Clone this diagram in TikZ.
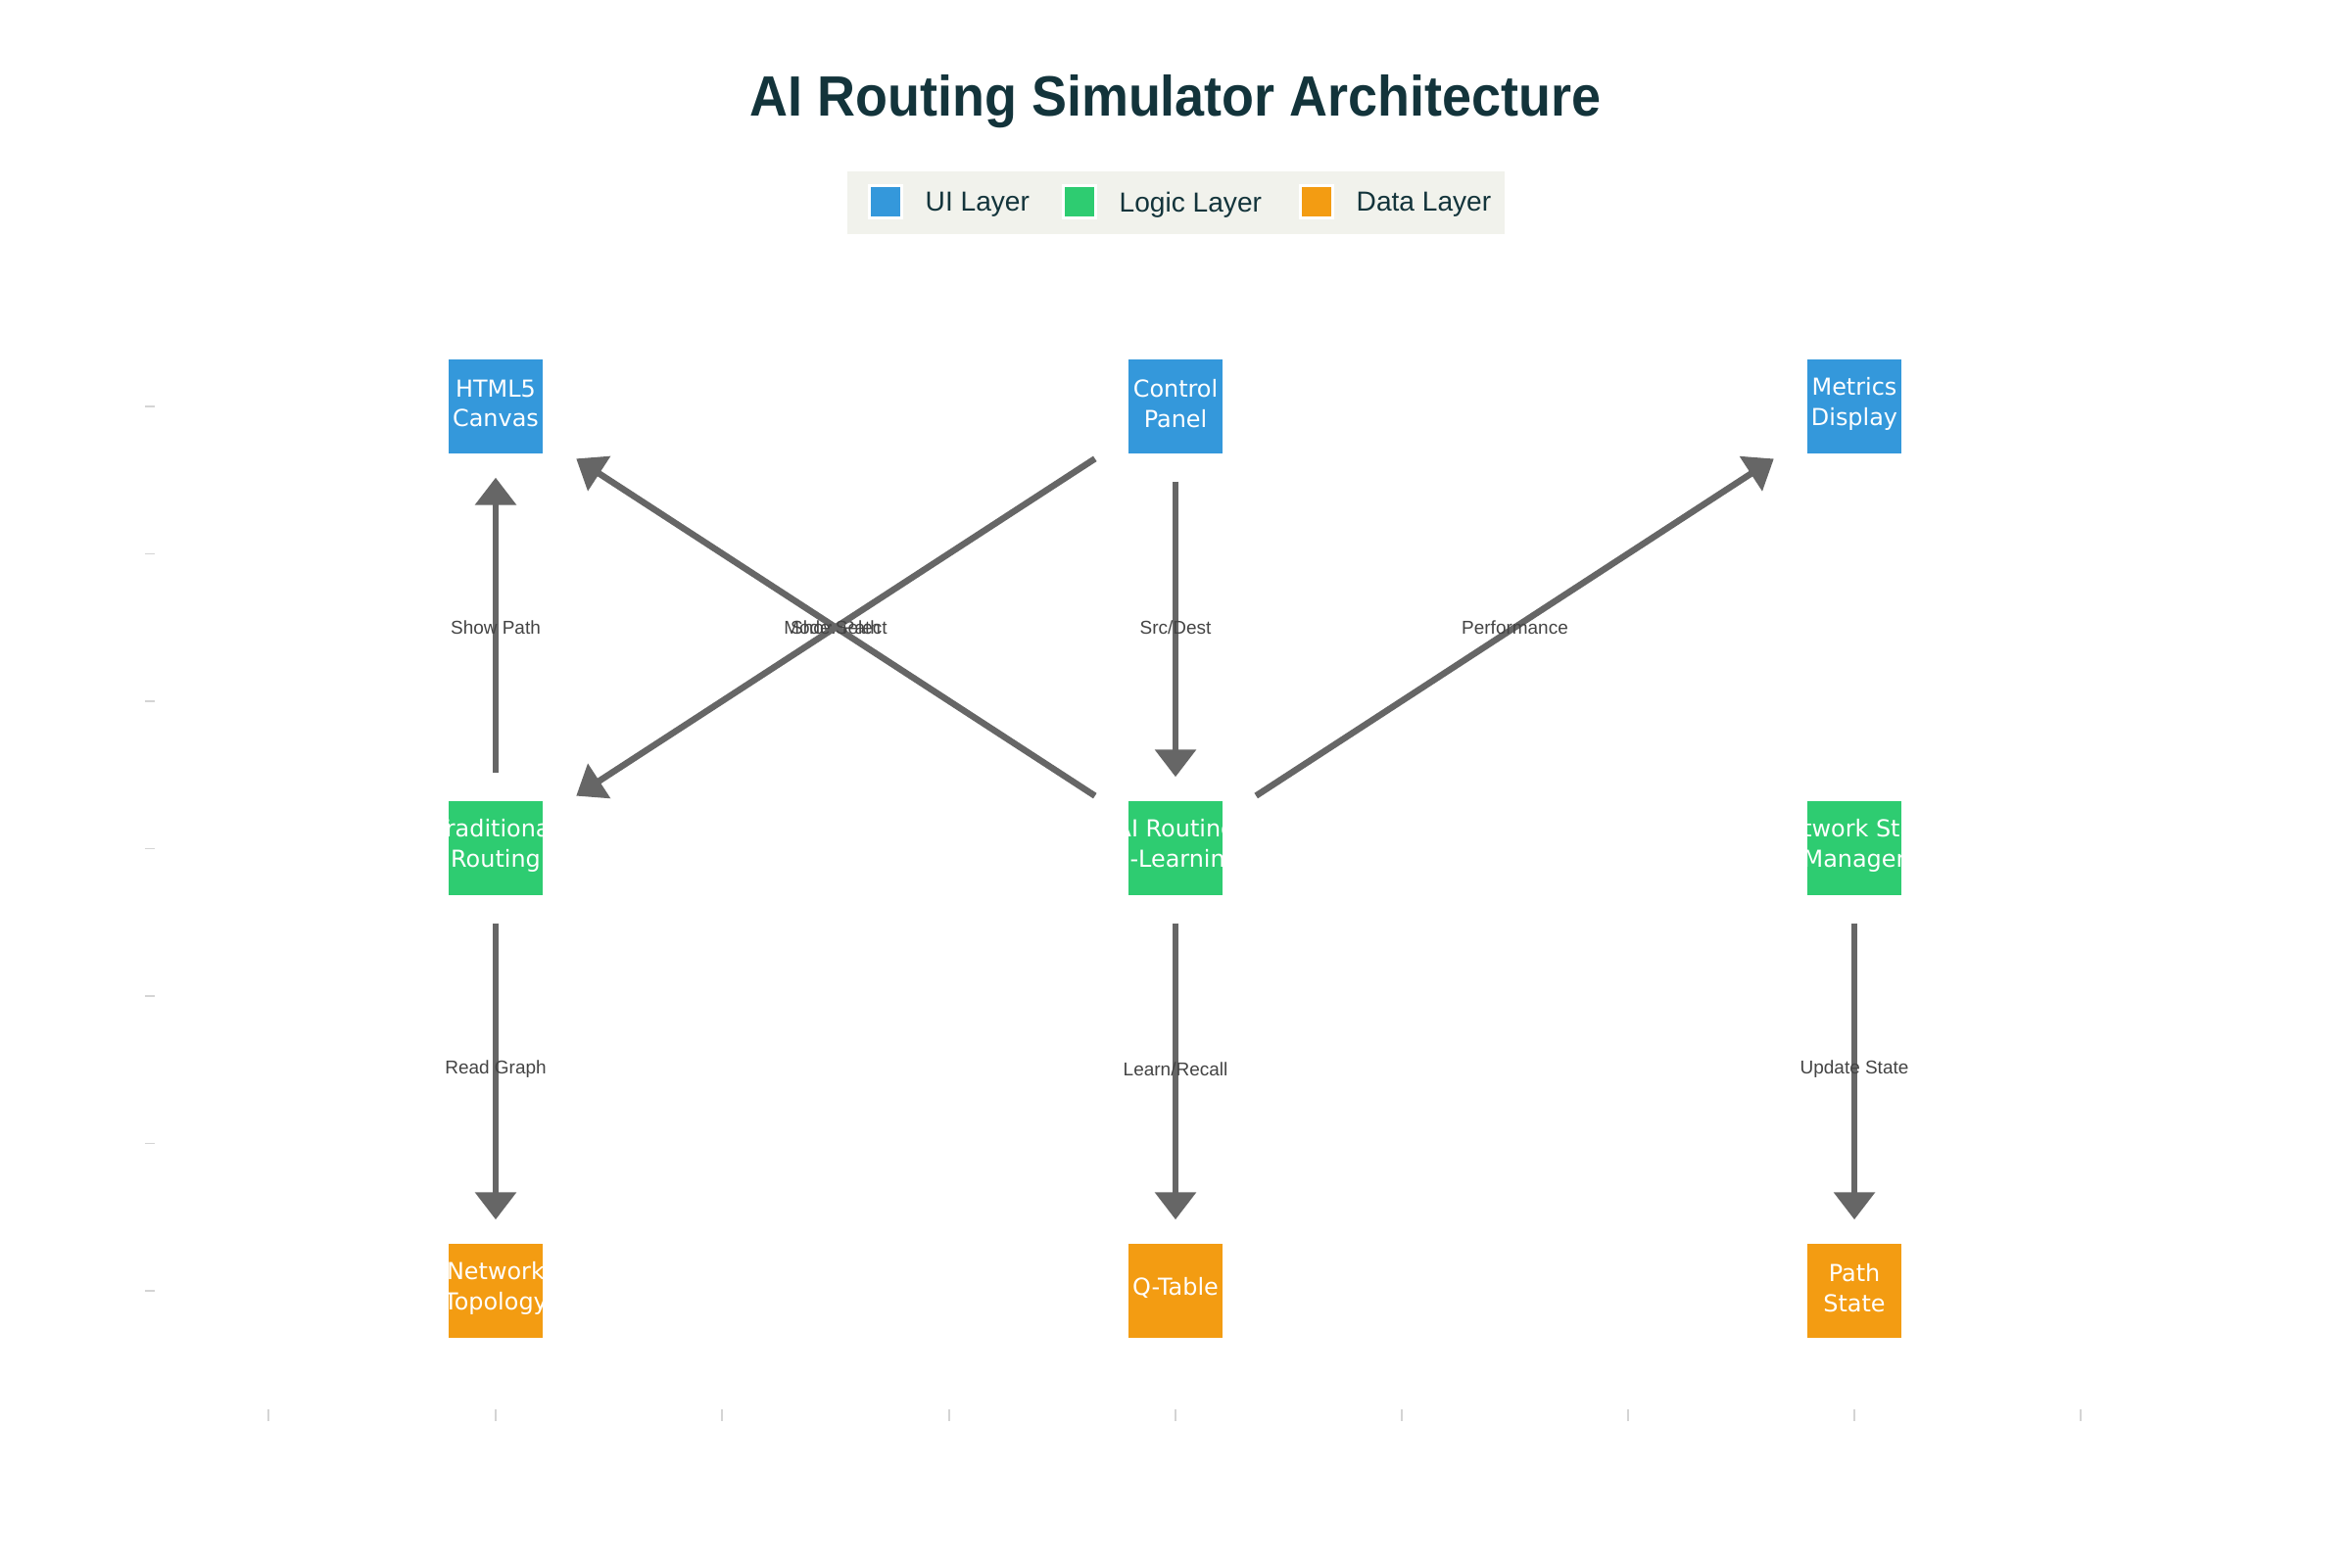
\documentclass[tikz,border=0pt]{standalone}
\usepackage{fontspec}
\setmainfont{Liberation Sans}
\newfontfamily\boxfont{DejaVu Sans}
\newfontfamily\titlefont[FakeStretch=0.93]{Liberation Sans}
\usetikzlibrary{arrows.meta}

\definecolor{uiblue}{HTML}{3498DB}
\definecolor{logicgreen}{HTML}{2ECC71}
\definecolor{dataorange}{HTML}{F39C12}
\definecolor{flowgray}{HTML}{666666}
\definecolor{labelgray}{HTML}{444444}
\definecolor{titleteal}{HTML}{13343B}
\definecolor{legendbg}{HTML}{F1F2EC}
\definecolor{tickgray}{HTML}{D4D4D4}

% white text, cut off at the edges of its box
\newcommand{\clippedlabel}[2]{%
  \begin{scope}
    \clip (#1.south west) rectangle (#1.north east);
    \node[boxlabel] at (#1) {#2};
  \end{scope}}

\tikzset{
  layerbox/.style={minimum size=0.96cm, inner sep=0pt},
  uinode/.style={layerbox, fill=uiblue},
  logicnode/.style={layerbox, fill=logicgreen},
  datanode/.style={layerbox, fill=dataorange},
  boxlabel/.style={text=white, align=center, inner sep=0pt, yshift=0.03cm,
    font=\boxfont\fontsize{6.8}{8.8}\selectfont},
  flow/.style={draw=flowgray, line width=0.065cm,
    -{Triangle[length=0.28cm, width=0.41cm]}},
  straight/.style={flow, shorten <=0.28cm, shorten >=0.24cm},
  slanted/.style={flow, shorten <=0.40cm, shorten >=0.40cm},
  flowlabel/.style={text=labelgray, inner sep=0pt,
    font=\fontsize{5.4}{6.5}\selectfont},
  legendkey/.style={draw=white, line width=0.03cm, minimum size=0.33cm, inner sep=0pt},
  legendtext/.style={anchor=west, inner sep=0pt, text=titleteal,
    font=\fontsize{8}{9.6}\selectfont},
  axistick/.style={draw=tickgray, line width=0.015cm}
}

\begin{document}
\begin{tikzpicture}
    \fill[white] (0,0) rectangle (24,16);
    \useasboundingbox (0,0) rectangle (24,16);

    % title and legend
    \node[text=titleteal, font=\titlefont\bfseries\fontsize{16.5}{19}\selectfont] (title) at (12.00,14.96) {AI Routing Simulator Architecture};
    \node[fill=legendbg, minimum width=6.71cm, minimum height=0.64cm, inner sep=0pt] (legend) at (12.00,13.93) {};
    \node[legendkey, fill=uiblue] (keyui) at (9.04,13.94) {};
    \node[legendtext] (textui) at (9.44,13.91) {UI Layer};
    \node[legendkey, fill=logicgreen] (keylogic) at (11.02,13.94) {};
    \node[legendtext] (textlogic) at (11.42,13.91) {Logic Layer};
    \node[legendkey, fill=dataorange] (keydata) at (13.435,13.94) {};
    \node[legendtext] (textdata) at (13.84,13.91) {Data Layer};

    % axis ticks
    \foreach \y in {11.85,10.345,8.84,7.335,5.83,4.325,2.82}
        \draw[axistick] (1.48,\y) -- (1.58,\y);
    \foreach \x in {2.74,5.06,7.37,9.69,12.00,14.31,16.62,18.93,21.24}
        \draw[axistick] (\x,1.49) -- (\x,1.61);

    % UI layer
    \node[uinode] (canvas) at (5.06,11.85) {};
    \node[uinode] (control) at (12.00,11.85) {};
    \node[uinode] (metrics) at (18.93,11.85) {};
    % logic layer
    \node[logicnode] (tradroute) at (5.06,7.34) {};
    \node[logicnode] (airoute) at (12.00,7.34) {};
    \node[logicnode] (netstate) at (18.93,7.34) {};
    % data layer
    \node[datanode] (topology) at (5.06,2.82) {};
    \node[datanode] (qtable) at (12.00,2.82) {};
    \node[datanode] (pathstate) at (18.93,2.82) {};

    \clippedlabel{canvas}{HTML5\\Canvas}
    \clippedlabel{control}{Control\\Panel}
    \clippedlabel{metrics}{Metrics\\Display}
    \clippedlabel{tradroute}{Traditional\\Routing}
    \clippedlabel{airoute}{AI Routing\\Q-Learning}
    \clippedlabel{netstate}{Network State\\Manager}
    \clippedlabel{topology}{Network\\Topology}
    \clippedlabel{qtable}{Q-Table}
    \clippedlabel{pathstate}{Path\\State}

    % connectors
    \draw[straight] (tradroute) -- node[flowlabel] {Show Path} (canvas);
    \draw[slanted] (airoute) -- node[flowlabel] {Show Path} (canvas);
    \draw[slanted] (control) -- node[flowlabel] {Mode Select} (tradroute);
    \draw[straight] (control) -- node[flowlabel] {Src/Dest} (airoute);
    \draw[slanted] (airoute) -- node[flowlabel] {Performance} (metrics);
    \draw[straight] (tradroute) -- node[flowlabel] {Read Graph} (topology);
    \draw[straight] (airoute) -- node[flowlabel] {Learn/Recall} (qtable);
    \draw[straight] (netstate) -- node[flowlabel] {Update State} (pathstate);
\end{tikzpicture}
\end{document}
